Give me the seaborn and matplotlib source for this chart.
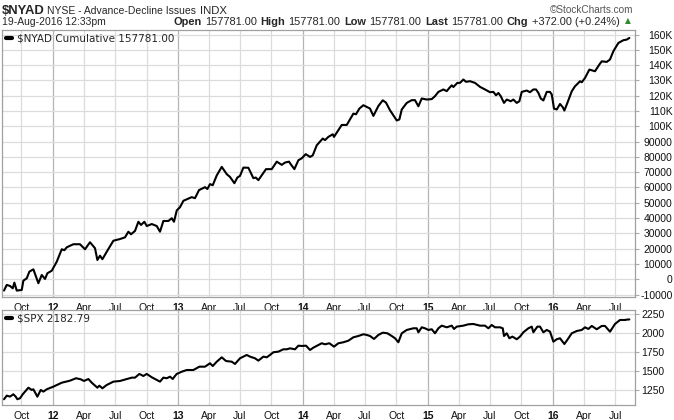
import numpy as np
import pandas as pd
import matplotlib
matplotlib.use("Agg")
import matplotlib.pyplot as plt
import matplotlib.dates as mdates
from matplotlib.ticker import FuncFormatter
import seaborn as sns

# ---- data (decimal year, value) ----
nyad_t = [2011.610, 2011.632, 2011.658, 2011.680, 2011.693, 2011.712, 2011.752, 2011.765, 2011.792, 2011.813,
          2011.845, 2011.885, 2011.912, 2011.938, 2011.957, 2011.992, 2012.032, 2012.072, 2012.093, 2012.112,
          2012.165, 2012.218, 2012.258, 2012.298, 2012.338, 2012.357, 2012.378, 2012.397, 2012.432, 2012.485,
          2012.538, 2012.578, 2012.605, 2012.626, 2012.658, 2012.685, 2012.706, 2012.733, 2012.752, 2012.792,
          2012.832, 2012.858, 2012.885, 2012.925, 2012.952, 2012.970, 2012.992, 2013.018, 2013.045, 2013.112,
          2013.138, 2013.170, 2013.218, 2013.237, 2013.258, 2013.280, 2013.312, 2013.352, 2013.392, 2013.418,
          2013.453, 2013.477, 2013.498, 2013.525, 2013.565, 2013.605, 2013.624, 2013.645, 2013.706, 2013.752,
          2013.792, 2013.832, 2013.858, 2013.890, 2013.904, 2013.933, 2013.965, 2013.992, 2014.024, 2014.058,
          2014.080, 2014.112, 2014.160, 2014.178, 2014.205, 2014.240, 2014.250, 2014.312, 2014.352, 2014.405,
          2014.426, 2014.453, 2014.485, 2014.538, 2014.565, 2014.605, 2014.640, 2014.666, 2014.698, 2014.712,
          2014.752, 2014.773, 2014.792, 2014.832, 2014.872, 2014.898, 2014.925, 2014.952, 2014.992, 2015.032,
          2015.058, 2015.085, 2015.125, 2015.152, 2015.173, 2015.192, 2015.205, 2015.237, 2015.258, 2015.285,
          2015.306, 2015.338, 2015.378, 2015.418, 2015.458, 2015.498, 2015.525, 2015.546, 2015.565, 2015.584,
          2015.610, 2015.632, 2015.664, 2015.685, 2015.712, 2015.733, 2015.752, 2015.792, 2015.818, 2015.845,
          2015.866, 2015.885, 2015.904, 2015.925, 2015.952, 2015.978, 2015.992, 2016.010, 2016.032, 2016.058,
          2016.080, 2016.093, 2016.117, 2016.152, 2016.178, 2016.197, 2016.218, 2016.232, 2016.258, 2016.293,
          2016.338, 2016.373, 2016.392, 2016.432, 2016.458, 2016.485, 2016.525, 2016.565, 2016.592, 2016.613]
nyad_v = [-7400, -3700, -4400, -5900, -2200, -7400, -7000, -900, 600, 5000,
          6500, -2600, 2800, 200, 3900, 5600, 11500, 19600, 19000, 20900,
          22900, 22900, 19600, 24200, 20300, 12600, 15400, 13100, 18000, 25200,
          26300, 27400, 31100, 29400, 31600, 37600, 35500, 37600, 34800, 36100,
          34800, 31100, 38100, 38100, 39900, 37600, 45000, 47100, 51300, 53700,
          53000, 58300, 60200, 59000, 62200, 61500, 67900, 73500, 68700, 66900,
          62800, 66500, 67600, 73000, 72900, 66100, 66500, 64800, 72000, 72000,
          76900, 74800, 76300, 76900, 75200, 72000, 77800, 79100, 81800, 80000,
          81000, 87600, 92000, 91000, 93100, 94800, 93100, 100900, 100900, 108300,
          107900, 111600, 113800, 111600, 106800, 113300, 117000, 115500, 110500, 108800,
          103800, 104500, 111000, 115300, 117100, 117100, 113100, 118200, 117500, 117800,
          119700, 122500, 124100, 123000, 125100, 126800, 125700, 128400, 128400, 130600,
          129100, 129500, 128400, 125800, 124100, 122300, 122500, 120300, 121800, 119700,
          115300, 117500, 116400, 117500, 115300, 116400, 122500, 123400, 122300, 124100,
          124100, 121900, 118200, 116900, 122500, 122500, 120800, 111600, 111000, 114600,
          112500, 110300, 115300, 122900, 126200, 127700, 129500, 128800, 131600, 137100,
          136000, 140400, 142500, 142100, 143700, 149100, 154500, 156300, 156700, 157781]

spx_t = [2011.610, 2011.632, 2011.658, 2011.685, 2011.704, 2011.717, 2011.738, 2011.760, 2011.778, 2011.805,
         2011.832, 2011.845, 2011.877, 2011.904, 2011.925, 2011.952, 2012.005, 2012.072, 2012.138, 2012.186,
         2012.224, 2012.250, 2012.285, 2012.312, 2012.357, 2012.373, 2012.397, 2012.432, 2012.485, 2012.538,
         2012.592, 2012.632, 2012.658, 2012.693, 2012.725, 2012.752, 2012.792, 2012.832, 2012.858, 2012.885,
         2012.912, 2012.938, 2012.960, 2012.978, 2012.992, 2013.032, 2013.072, 2013.125, 2013.173, 2013.218,
         2013.258, 2013.280, 2013.312, 2013.352, 2013.386, 2013.432, 2013.458, 2013.498, 2013.552, 2013.578,
         2013.618, 2013.645, 2013.685, 2013.712, 2013.738, 2013.765, 2013.805, 2013.845, 2013.872, 2013.898,
         2013.938, 2013.965, 2013.992, 2014.026, 2014.058, 2014.085, 2014.125, 2014.152, 2014.178, 2014.213,
         2014.250, 2014.285, 2014.325, 2014.365, 2014.405, 2014.445, 2014.485, 2014.512, 2014.538, 2014.570,
         2014.605, 2014.640, 2014.677, 2014.712, 2014.738, 2014.765, 2014.792, 2014.832, 2014.885, 2014.912,
         2014.925, 2014.952, 2014.978, 2015.005, 2015.032, 2015.058, 2015.085, 2015.112, 2015.152, 2015.192,
         2015.210, 2015.232, 2015.285, 2015.325, 2015.365, 2015.418, 2015.458, 2015.485, 2015.512, 2015.538,
         2015.578, 2015.600, 2015.610, 2015.632, 2015.653, 2015.677, 2015.712, 2015.738, 2015.765, 2015.805,
         2015.832, 2015.845, 2015.877, 2015.898, 2015.925, 2015.952, 2015.978, 2016.005, 2016.032, 2016.058,
         2016.093, 2016.120, 2016.152, 2016.192, 2016.232, 2016.258, 2016.285, 2016.312, 2016.352, 2016.392,
         2016.418, 2016.458, 2016.498, 2016.538, 2016.578, 2016.597, 2016.613]
spx_v = [1127, 1175, 1162, 1193, 1161, 1127, 1140, 1193, 1228, 1280,
         1250, 1259, 1161, 1250, 1228, 1259, 1294, 1346, 1373, 1405,
         1391, 1369, 1395, 1346, 1280, 1307, 1272, 1316, 1360, 1369,
         1395, 1413, 1413, 1462, 1435, 1462, 1418, 1382, 1360, 1413,
         1405, 1426, 1395, 1435, 1462, 1492, 1514, 1514, 1558, 1558,
         1603, 1567, 1624, 1682, 1633, 1624, 1594, 1669, 1713, 1691,
         1669, 1638, 1691, 1682, 1713, 1749, 1757, 1788, 1788, 1801,
         1788, 1836, 1832, 1836, 1779, 1810, 1845, 1868, 1854, 1868,
         1823, 1868, 1881, 1902, 1947, 1964, 1987, 1978, 1964, 1925,
         1978, 2008, 2000, 1964, 1934, 1881, 2000, 2044, 2066, 2066,
         2013, 2079, 2066, 2044, 2053, 2000, 2066, 2101, 2079, 2101,
         2057, 2088, 2101, 2119, 2123, 2101, 2101, 2066, 2110, 2079,
         2079, 2066, 1964, 2000, 1934, 1956, 1921, 1956, 2013, 2066,
         2088, 2013, 2088, 2088, 2013, 2044, 2022, 1889, 1921, 1934,
         1858, 1921, 2000, 2030, 2044, 2079, 2057, 2097, 2053, 2097,
         2097, 2021, 2123, 2176, 2176, 2182, 2183]

nyad_ticks = list(range(-10000, 160001, 10000))
spx_ticks = [1250, 1500, 1750, 2000, 2250]

title_sym = "$NYAD"
title_name = "NYSE - Advance-Decline Issues"
title_exch = "INDX"
date_str = "19-Aug-2016 12:33pm"
quote_parts = [("Open", True), ("157781.00", False), ("High", True), ("157781.00", False),
               ("Low", True), ("157781.00", False), ("Last", True), ("157781.00", False),
               ("Chg", True), ("+372.00 (+0.24%)", False)]
nyad_label = "$NYAD Cumulative 157781.00"
spx_label = "$SPX 2182.79"


def to_dates(t):
    t = np.asarray(t, dtype=float)
    return pd.Timestamp("2012-01-01") + pd.to_timedelta((t - 2012.0) * 365.25, unit="D")


sns.set_style("white")
plt.rcParams["font.family"] = ["Liberation Sans", "DejaVu Sans"]

W, H = 674, 420
fig = plt.figure(figsize=(W / 100, H / 100), dpi=100)
fig.patch.set_facecolor("white")


def box(l, t, r, b):
    return [l / W, 1 - b / H, (r - l) / W, (b - t) / H]


ax1 = fig.add_axes(box(2, 29.5, 635, 297))
ax2 = fig.add_axes(box(2, 310, 635, 405))

df1 = pd.DataFrame({"date": to_dates(nyad_t), "value": nyad_v})
df2 = pd.DataFrame({"date": to_dates(spx_t), "value": spx_v})
sns.lineplot(data=df1, x="date", y="value", ax=ax1, color="black", lw=1.5, label=nyad_label)
sns.lineplot(data=df2, x="date", y="value", ax=ax2, color="black", lw=1.5, label=spx_label)

xlim = to_dates([2011.594, 2016.658])
for ax, ticks in ((ax1, nyad_ticks), (ax2, spx_ticks)):
    ax.set_xlim(xlim[0], xlim[1])
    ax.set_xlabel("")
    ax.set_ylabel("")
    ax.yaxis.tick_right()
    ax.set_yticks(ticks)
    ax.xaxis.set_major_locator(mdates.YearLocator())
    ax.xaxis.set_minor_locator(mdates.MonthLocator(bymonth=[4, 7, 10]))
    ax.xaxis.set_major_formatter(mdates.DateFormatter("%y"))
    ax.xaxis.set_minor_formatter(mdates.DateFormatter("%b"))
    ax.grid(True, which="major", axis="x", color="#b4b4b4", lw=0.9)
    ax.grid(True, which="minor", axis="x", color="#dcdcdc", lw=0.9)
    ax.grid(True, which="major", axis="y", color="#dcdcdc", lw=0.9)
    ax.set_axisbelow(True)
    ax.tick_params(axis="x", which="both", length=3, color="#aaaaaa", labelsize=7.5,
                   pad=1.5, labelcolor="#111111")
    ax.tick_params(axis="y", which="major", length=3, color="#aaaaaa", labelsize=7.5,
                   labelcolor="#111111", left=False, right=True)
    for s in ax.spines.values():
        s.set_color("#a0a0a0")
        s.set_linewidth(0.9)
    leg = ax.legend(loc="upper left", frameon=False, handlelength=0.6, handletextpad=0.5,
                    borderaxespad=0.15, borderpad=0.2,
                    prop={"family": "DejaVu Sans", "size": 7.5})
    for ln in leg.get_lines():
        ln.set_linewidth(3)

ax1.set_ylim(-11600, 163300)
ax2.set_ylim(1051, 2308)
ax1.yaxis.set_major_formatter(FuncFormatter(
    lambda v, p: f"{int(round(v / 1000))}K" if v >= 100000 else f"{int(round(v))}"))
ax1.tick_params(axis="y", pad=24)
for lbl in ax1.get_yticklabels():
    lbl.set_horizontalalignment("right")
ax2.tick_params(axis="y", pad=1.5)

for ax in (ax1, ax2):
    plt.setp(ax.xaxis.get_majorticklabels(), fontweight="bold")

# ---- header ----
fig.canvas.draw()
renderer = fig.canvas.get_renderer()


def fit_text(x, y, s, target_w, size, **kw):
    t = fig.text(x / W, 1 - y / H, s, fontsize=size, va="center", ha="left", **kw)
    w = t.get_window_extent(renderer).width
    t.set_fontsize(size * target_w / w)
    return t


fit_text(2, 11, title_sym, 43, 10.5, fontweight="bold")
fit_text(47, 11.5, title_name, 148, 8.5)
fit_text(200, 11.5, title_exch, 27, 7)
fig.text(633 / W, 1 - 10 / H, "\u00a9StockCharts.com", fontsize=7.2, va="center", ha="right",
         color="#555555")
fig.text(2 / W, 1 - 22 / H, date_str, fontsize=7.5, va="center", ha="left")

x = 173.0
for i, (txt, bold) in enumerate(quote_parts):
    t = fig.text(x / W, 1 - 22 / H, txt, fontsize=7.9, va="center", ha="left",
                 fontweight="bold" if bold else "normal")
    bb = t.get_window_extent(renderer)
    x += bb.width + 3.5
fig.text((x + 2) / W, 1 - 21 / H, "\u25b2", fontsize=5.5, va="center", ha="left",
         color="#2e8b2e", family="DejaVu Sans")

fig.savefig("out.png", dpi=100, facecolor="white")
